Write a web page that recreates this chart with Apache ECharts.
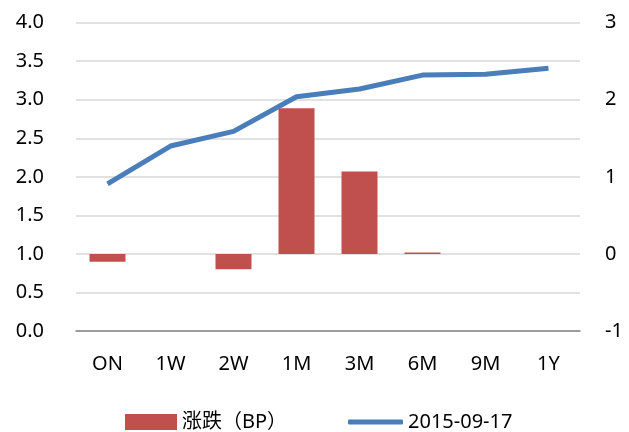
<!DOCTYPE html>
<html>
<head>
<meta charset="utf-8">
<script src="https://cdn.jsdelivr.net/npm/echarts@6/dist/echarts.min.js"></script>
<style>
  html, body { margin: 0; padding: 0; background: #fff; }
  #chart { width: 629px; height: 432px; }
</style>
</head>
<body>
<div id="chart"></div>
<script>
// tenors on the x axis
const tenors = ['ON', '1W', '2W', '1M', '3M', '6M', '9M', '1Y']
// change in bp (right axis)
const changeBP = [-0.1, 0, -0.2, 1.89, 1.07, 0.02, 0, 0]
// rate level on 2015-09-17 (left axis)
const rate0917 = [1.91, 2.4, 2.59, 3.04, 3.14, 3.32, 3.33, 3.41]

const barName = '涨跌（BP）'
const lineName = '2015-09-17'
const font = '"Noto Sans", "Noto Sans CJK SC", sans-serif'

const chart = echarts.init(document.getElementById('chart'))

chart.setOption({
  animation: false,
  textStyle: { fontFamily: font },
  grid: { left: 76, right: 49, top: 22.7, bottom: 101 },
  legend: [
    {
      left: 120, top: 407,
      itemWidth: 52, itemHeight: 16, itemGap: 6,
      textStyle: { fontSize: 20, color: '#000', fontFamily: font },
      data: [{ name: barName, icon: 'rect' }]
    },
    {
      left: 343, top: 407,
      itemWidth: 55, itemHeight: 5, itemGap: 5,
      textStyle: { fontSize: 20, color: '#000', fontFamily: font },
      data: [{ name: lineName, icon: 'roundRect' }]
    }
  ],
  xAxis: {
    type: 'category',
    data: tenors,
    axisTick: { show: false },
    axisLine: { onZero: false, lineStyle: { color: '#868686', width: 1.5 } },
    axisLabel: { color: '#000', fontSize: 20, margin: 23 }
  },
  yAxis: [
    {
      type: 'value', min: 0, max: 4, interval: 0.5,
      axisLine: { show: false }, axisTick: { show: false },
      axisLabel: { color: '#000', fontSize: 20, margin: 32, formatter: v => v.toFixed(1) },
      splitLine: { lineStyle: { color: '#d9d9d9', width: 1.5 } }
    },
    {
      type: 'value', min: -1, max: 3, interval: 1,
      axisLine: { show: false }, axisTick: { show: false },
      axisLabel: { color: '#000', fontSize: 20, margin: 25 },
      splitLine: { show: false }
    }
  ],
  series: [
    {
      name: barName,
      type: 'bar',
      yAxisIndex: 1,
      data: changeBP,
      barWidth: 36,
      itemStyle: { color: '#c0504d' }
    },
    {
      name: lineName,
      type: 'line',
      yAxisIndex: 0,
      data: rate0917,
      symbol: 'none',
      lineStyle: { color: '#4a7ebb', width: 5 },
      itemStyle: { color: '#4a7ebb' }
    }
  ]
})
</script>
</body>
</html>
